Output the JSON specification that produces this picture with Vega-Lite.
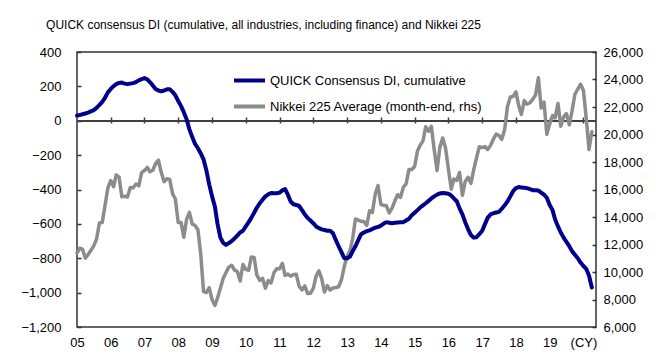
{
  "$schema": "https://vega.github.io/schema/vega-lite/v6.json",
  "width": 519,
  "height": 275,
  "autosize": {"type": "none"},
  "padding": {"left": 77, "top": 52, "right": 69, "bottom": 30},
  "background": "white",
  "config": {
    "font": "Liberation Sans",
    "view": {"stroke": "#333333", "strokeWidth": 1.5},
    "axis": {"labelFont": "Liberation Sans", "labelFontSize": 13, "labelColor": "#000000", "grid": false, "title": null, "labelOverlap": false},
    "axisY": {"labelOverlap": false}
  },
  "title": {
    "text": "QUICK consensus DI (cumulative, all industries, including finance) and Nikkei 225",
    "anchor": "middle", "frame": "group", "dx": -73, "offset": 5, "baseline": "alphabetic",
    "fontSize": 12, "fontWeight": "normal", "font": "Liberation Sans", "color": "#000000"
  },
  "data": {"values": [
{"d":"2005-01-01","di":30,"nk":11388},{"d":"2005-02-01","di":33,"nk":11741},{"d":"2005-03-01","di":38,"nk":11669},{"d":"2005-04-01","di":42,"nk":11009},{"d":"2005-05-01","di":47,"nk":11277},{"d":"2005-06-01","di":55,"nk":11584},{"d":"2005-07-01","di":62,"nk":11900},{"d":"2005-08-01","di":75,"nk":12414},{"d":"2005-09-01","di":92,"nk":13574},{"d":"2005-10-01","di":110,"nk":13607},{"d":"2005-11-01","di":135,"nk":14872},{"d":"2005-12-01","di":165,"nk":16111},
{"d":"2006-01-01","di":185,"nk":16650},{"d":"2006-02-01","di":202,"nk":16205},{"d":"2006-03-01","di":213,"nk":17060},{"d":"2006-04-01","di":220,"nk":16906},{"d":"2006-05-01","di":222,"nk":15467},{"d":"2006-06-01","di":216,"nk":15505},{"d":"2006-07-01","di":213,"nk":15457},{"d":"2006-08-01","di":216,"nk":16141},{"d":"2006-09-01","di":219,"nk":16128},{"d":"2006-10-01","di":225,"nk":16399},{"d":"2006-11-01","di":235,"nk":16274},{"d":"2006-12-01","di":242,"nk":17226},
{"d":"2007-01-01","di":248,"nk":17383},{"d":"2007-02-01","di":240,"nk":17604},{"d":"2007-03-01","di":225,"nk":17288},{"d":"2007-04-01","di":205,"nk":17400},{"d":"2007-05-01","di":185,"nk":17876},{"d":"2007-06-01","di":176,"nk":18138},{"d":"2007-07-01","di":171,"nk":17249},{"d":"2007-08-01","di":176,"nk":16569},{"d":"2007-09-01","di":183,"nk":16786},{"d":"2007-10-01","di":183,"nk":16738},{"d":"2007-11-01","di":168,"nk":15681},{"d":"2007-12-01","di":148,"nk":15308},
{"d":"2008-01-01","di":115,"nk":13592},{"d":"2008-02-01","di":85,"nk":13603},{"d":"2008-03-01","di":50,"nk":12526},{"d":"2008-04-01","di":8,"nk":13850},{"d":"2008-05-01","di":-50,"nk":14339},{"d":"2008-06-01","di":-95,"nk":13481},{"d":"2008-07-01","di":-135,"nk":13377},{"d":"2008-08-01","di":-160,"nk":13073},{"d":"2008-09-01","di":-190,"nk":11260},{"d":"2008-10-01","di":-225,"nk":8577},{"d":"2008-11-01","di":-290,"nk":8512},{"d":"2008-12-01","di":-370,"nk":8860},
{"d":"2009-01-01","di":-440,"nk":7994},{"d":"2009-02-01","di":-500,"nk":7568},{"d":"2009-03-01","di":-600,"nk":8110},{"d":"2009-04-01","di":-680,"nk":8828},{"d":"2009-05-01","di":-710,"nk":9523},{"d":"2009-06-01","di":-722,"nk":9958},{"d":"2009-07-01","di":-712,"nk":10357},{"d":"2009-08-01","di":-700,"nk":10493},{"d":"2009-09-01","di":-685,"nk":10133},{"d":"2009-10-01","di":-668,"nk":10035},{"d":"2009-11-01","di":-650,"nk":9346},{"d":"2009-12-01","di":-640,"nk":10546},
{"d":"2010-01-01","di":-615,"nk":10198},{"d":"2010-02-01","di":-590,"nk":10126},{"d":"2010-03-01","di":-565,"nk":11090},{"d":"2010-04-01","di":-535,"nk":11057},{"d":"2010-05-01","di":-505,"nk":9769},{"d":"2010-06-01","di":-480,"nk":9383},{"d":"2010-07-01","di":-460,"nk":9537},{"d":"2010-08-01","di":-440,"nk":8824},{"d":"2010-09-01","di":-428,"nk":9369},{"d":"2010-10-01","di":-420,"nk":9202},{"d":"2010-11-01","di":-422,"nk":9937},{"d":"2010-12-01","di":-422,"nk":10229},
{"d":"2011-01-01","di":-418,"nk":10238},{"d":"2011-02-01","di":-405,"nk":10624},{"d":"2011-03-01","di":-397,"nk":9755},{"d":"2011-04-01","di":-430,"nk":9850},{"d":"2011-05-01","di":-470,"nk":9694},{"d":"2011-06-01","di":-486,"nk":9816},{"d":"2011-07-01","di":-490,"nk":9833},{"d":"2011-08-01","di":-496,"nk":8955},{"d":"2011-09-01","di":-520,"nk":8700},{"d":"2011-10-01","di":-545,"nk":8988},{"d":"2011-11-01","di":-565,"nk":8435},{"d":"2011-12-01","di":-580,"nk":8455},
{"d":"2012-01-01","di":-596,"nk":8803},{"d":"2012-02-01","di":-615,"nk":9723},{"d":"2012-03-01","di":-625,"nk":10084},{"d":"2012-04-01","di":-632,"nk":9521},{"d":"2012-05-01","di":-636,"nk":8543},{"d":"2012-06-01","di":-640,"nk":9007},{"d":"2012-07-01","di":-640,"nk":8695},{"d":"2012-08-01","di":-655,"nk":8840},{"d":"2012-09-01","di":-695,"nk":8870},{"d":"2012-10-01","di":-730,"nk":8928},{"d":"2012-11-01","di":-765,"nk":9446},{"d":"2012-12-01","di":-800,"nk":10395},
{"d":"2013-01-01","di":-800,"nk":11139},{"d":"2013-02-01","di":-790,"nk":11559},{"d":"2013-03-01","di":-760,"nk":12398},{"d":"2013-04-01","di":-730,"nk":13861},{"d":"2013-05-01","di":-695,"nk":13775},{"d":"2013-06-01","di":-660,"nk":13677},{"d":"2013-07-01","di":-650,"nk":13668},{"d":"2013-08-01","di":-642,"nk":13389},{"d":"2013-09-01","di":-638,"nk":14456},{"d":"2013-10-01","di":-630,"nk":14328},{"d":"2013-11-01","di":-622,"nk":15662},{"d":"2013-12-01","di":-618,"nk":16291},
{"d":"2014-01-01","di":-610,"nk":14915},{"d":"2014-02-01","di":-598,"nk":14841},{"d":"2014-03-01","di":-590,"nk":14828},{"d":"2014-04-01","di":-593,"nk":14304},{"d":"2014-05-01","di":-596,"nk":14632},{"d":"2014-06-01","di":-594,"nk":15162},{"d":"2014-07-01","di":-592,"nk":15621},{"d":"2014-08-01","di":-590,"nk":15425},{"d":"2014-09-01","di":-590,"nk":16174},{"d":"2014-10-01","di":-580,"nk":16414},{"d":"2014-11-01","di":-570,"nk":17460},{"d":"2014-12-01","di":-550,"nk":17451},
{"d":"2015-01-01","di":-535,"nk":17674},{"d":"2015-02-01","di":-520,"nk":18798},{"d":"2015-03-01","di":-505,"nk":19207},{"d":"2015-04-01","di":-492,"nk":19520},{"d":"2015-05-01","di":-480,"nk":20563},{"d":"2015-06-01","di":-466,"nk":20236},{"d":"2015-07-01","di":-452,"nk":20585},{"d":"2015-08-01","di":-440,"nk":18890},{"d":"2015-09-01","di":-430,"nk":17388},{"d":"2015-10-01","di":-423,"nk":19083},{"d":"2015-11-01","di":-420,"nk":19747},{"d":"2015-12-01","di":-422,"nk":19034},
{"d":"2016-01-01","di":-425,"nk":17518},{"d":"2016-02-01","di":-435,"nk":16027},{"d":"2016-03-01","di":-452,"nk":16759},{"d":"2016-04-01","di":-468,"nk":16666},{"d":"2016-05-01","di":-510,"nk":17235},{"d":"2016-06-01","di":-545,"nk":15576},{"d":"2016-07-01","di":-590,"nk":16569},{"d":"2016-08-01","di":-630,"nk":16887},{"d":"2016-09-01","di":-665,"nk":16450},{"d":"2016-10-01","di":-680,"nk":17425},{"d":"2016-11-01","di":-678,"nk":18308},{"d":"2016-12-01","di":-660,"nk":19114},
{"d":"2017-01-01","di":-640,"nk":19041},{"d":"2017-02-01","di":-600,"nk":19119},{"d":"2017-03-01","di":-565,"nk":18909},{"d":"2017-04-01","di":-545,"nk":19197},{"d":"2017-05-01","di":-538,"nk":19651},{"d":"2017-06-01","di":-534,"nk":20033},{"d":"2017-07-01","di":-530,"nk":19925},{"d":"2017-08-01","di":-512,"nk":19646},{"d":"2017-09-01","di":-492,"nk":20356},{"d":"2017-10-01","di":-470,"nk":22012},{"d":"2017-11-01","di":-440,"nk":22725},{"d":"2017-12-01","di":-410,"nk":22765},
{"d":"2018-01-01","di":-392,"nk":23098},{"d":"2018-02-01","di":-386,"nk":22068},{"d":"2018-03-01","di":-388,"nk":21454},{"d":"2018-04-01","di":-390,"nk":22468},{"d":"2018-05-01","di":-392,"nk":22202},{"d":"2018-06-01","di":-398,"nk":22305},{"d":"2018-07-01","di":-404,"nk":22554},{"d":"2018-08-01","di":-405,"nk":22865},{"d":"2018-09-01","di":-406,"nk":24120},{"d":"2018-10-01","di":-418,"nk":21920},{"d":"2018-11-01","di":-430,"nk":22351},{"d":"2018-12-01","di":-448,"nk":20015},
{"d":"2019-01-01","di":-490,"nk":20773},{"d":"2019-02-01","di":-520,"nk":21385},{"d":"2019-03-01","di":-575,"nk":21206},{"d":"2019-04-01","di":-615,"nk":22259},{"d":"2019-05-01","di":-650,"nk":20601},{"d":"2019-06-01","di":-680,"nk":21276},{"d":"2019-07-01","di":-705,"nk":21522},{"d":"2019-08-01","di":-730,"nk":20704},{"d":"2019-09-01","di":-760,"nk":21756},{"d":"2019-10-01","di":-780,"nk":22927},{"d":"2019-11-01","di":-800,"nk":23294},{"d":"2019-12-01","di":-825,"nk":23657},
{"d":"2020-01-01","di":-845,"nk":23205},{"d":"2020-02-01","di":-862,"nk":21143},{"d":"2020-03-01","di":-900,"nk":18917},{"d":"2020-04-01","di":-970,"nk":20194}
  ]},
  "layer": [
    {
      "layer": [
        {
          "mark": {"type": "rule", "color": "#404040", "strokeWidth": 1.5},
          "encoding": {"y": {"datum": 21000, "type": "quantitative",
            "scale": {"domain": [6000, 26000], "nice": false, "zero": false},
            "axis": {"orient": "right", "values": [6000, 8000, 10000, 12000, 14000, 16000, 18000, 20000, 22000, 24000, 26000], "format": ",.0f", "domain": false, "tickSize": -4, "tickWidth": 1.5, "tickColor": "#333333", "labelPadding": 11, "labelOverlap": false}}}
        },
        {
          "mark": {"type": "line", "strokeWidth": 3.5, "strokeJoin": "round", "strokeCap": "round"},
          "encoding": {
            "x": {"field": "d", "type": "temporal",
              "scale": {"type": "utc", "domain": [{"year": 2005, "month": 1, "date": 1, "utc": true}, {"year": 2020, "month": 5, "date": 16, "utc": true}]},
              "axis": {"orient": "bottom", "offset": -210, "domain": false, "labels": false, "ticks": true, "tickSize": 6, "tickWidth": 1.5, "tickColor": "#404040",
                "values": [{"year":2006,"month":1,"date":1,"utc":true},{"year":2007,"month":1,"date":1,"utc":true},{"year":2008,"month":1,"date":1,"utc":true},{"year":2009,"month":1,"date":1,"utc":true},{"year":2010,"month":1,"date":1,"utc":true},{"year":2011,"month":1,"date":1,"utc":true},{"year":2012,"month":1,"date":1,"utc":true},{"year":2013,"month":1,"date":1,"utc":true},{"year":2014,"month":1,"date":1,"utc":true},{"year":2015,"month":1,"date":1,"utc":true},{"year":2016,"month":1,"date":1,"utc":true},{"year":2017,"month":1,"date":1,"utc":true},{"year":2018,"month":1,"date":1,"utc":true},{"year":2019,"month":1,"date":1,"utc":true},{"year":2020,"month":1,"date":1,"utc":true}]}},
            "y": {"field": "nk", "type": "quantitative",
              "scale": {"domain": [6000, 26000], "nice": false, "zero": false},
              "axis": {"orient": "right", "values": [6000, 8000, 10000, 12000, 14000, 16000, 18000, 20000, 22000, 24000, 26000], "format": ",.0f", "domain": false, "tickSize": -4, "tickWidth": 1.5, "tickColor": "#333333", "labelPadding": 11, "labelOverlap": false}},
            "color": {"datum": "Nikkei 225 Average (month-end, rhs)", "type": "nominal"}
          }
        }
      ]
    },
    {
      "mark": {"type": "line", "strokeWidth": 4, "strokeJoin": "round", "strokeCap": "round"},
      "encoding": {
        "x": {"field": "d", "type": "temporal",
          "scale": {"type": "utc"},
          "axis": {"orient": "bottom", "domain": false, "ticks": false, "labelPadding": 9,
            "values": [{"year":2005,"month":1,"date":1,"utc":true},{"year":2006,"month":1,"date":1,"utc":true},{"year":2007,"month":1,"date":1,"utc":true},{"year":2008,"month":1,"date":1,"utc":true},{"year":2009,"month":1,"date":1,"utc":true},{"year":2010,"month":1,"date":1,"utc":true},{"year":2011,"month":1,"date":1,"utc":true},{"year":2012,"month":1,"date":1,"utc":true},{"year":2013,"month":1,"date":1,"utc":true},{"year":2014,"month":1,"date":1,"utc":true},{"year":2015,"month":1,"date":1,"utc":true},{"year":2016,"month":1,"date":1,"utc":true},{"year":2017,"month":1,"date":1,"utc":true},{"year":2018,"month":1,"date":1,"utc":true},{"year":2019,"month":1,"date":1,"utc":true},{"year":2020,"month":1,"date":1,"utc":true}],
            "labelExpr": "utcyear(datum.value) == 2020 ? '(CY)' : utcFormat(datum.value, '%y')",
            "labelFlush": false, "labelOverlap": false}},
        "y": {"field": "di", "type": "quantitative",
          "scale": {"domain": [-1200, 400], "nice": false, "zero": false},
          "axis": {"orient": "left", "values": [-1200, -1000, -800, -600, -400, -200, 0, 200, 400], "format": ",.0f", "domain": false, "tickSize": -4, "tickWidth": 1.5, "tickColor": "#333333", "labelPadding": 20, "labelOverlap": false}},
        "color": {"datum": "QUICK Consensus DI, cumulative", "type": "nominal",
          "scale": {"domain": ["QUICK Consensus DI, cumulative", "Nikkei 225 Average (month-end, rhs)"], "range": ["#00008b", "#8c8c8c"]},
          "legend": {"orient": "none", "legendX": 155, "legendY": 11, "title": null, "symbolType": "stroke", "symbolSize": 961, "symbolStrokeWidth": 4, "labelFontSize": 13, "labelFont": "Liberation Sans", "labelColor": "#000000", "labelLimit": 400, "rowPadding": -6, "labelOffset": 3, "padding": 0}}
      }
    }
  ],
  "resolve": {"scale": {"y": "independent"}, "axis": {"x": "independent", "y": "independent"}}
}
